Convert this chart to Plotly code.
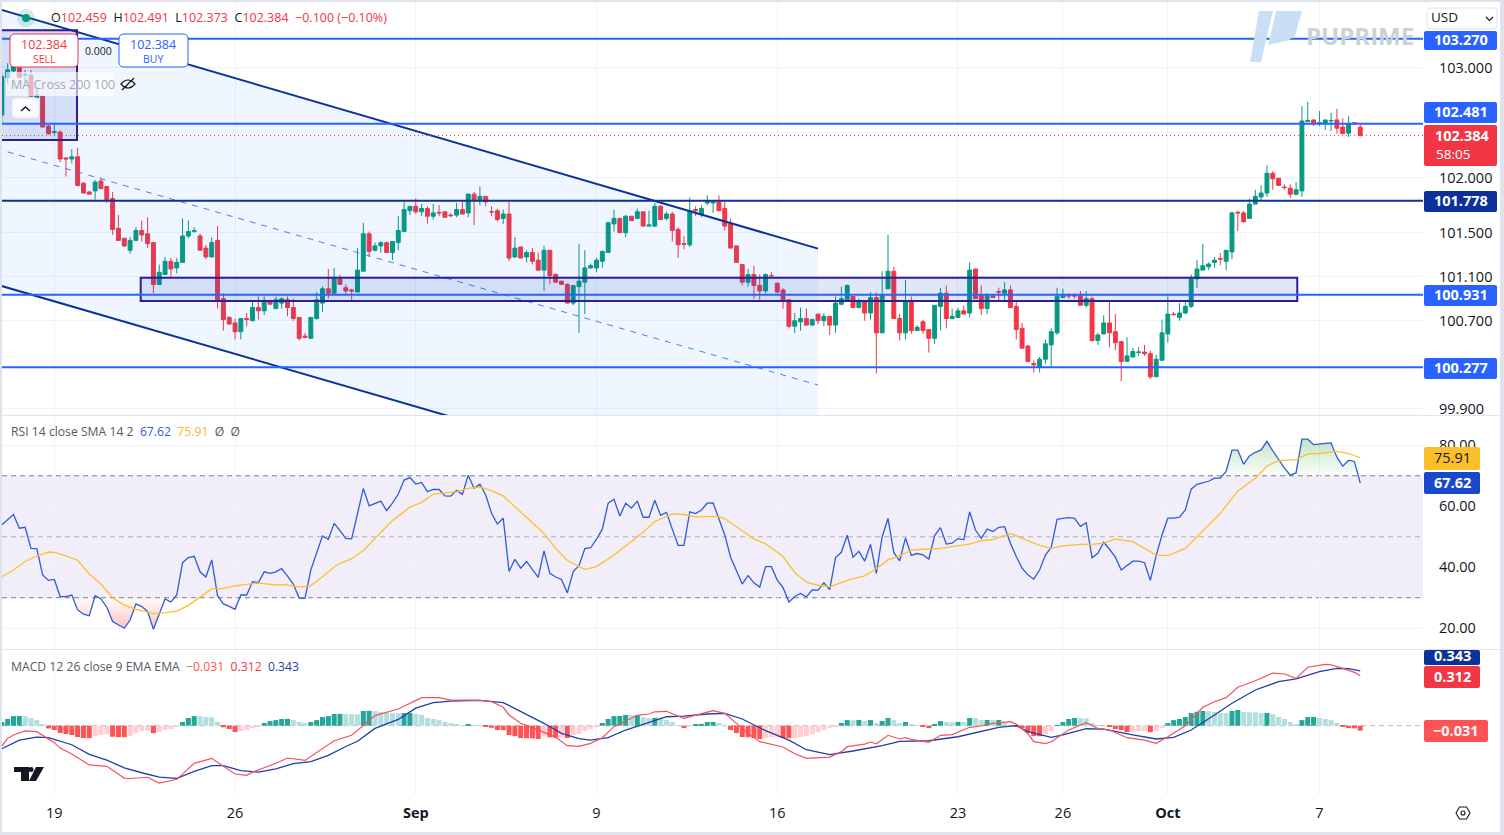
import plotly.graph_objects as go

W, H = 1504, 835
FONT = "Open Sans"

opens = [102.57,102.91,102.97,103.00,102.93,102.93,102.73,102.74,102.47,102.41,
102.415,102.18,102.17,102.19,101.95,101.87,101.88,101.97,101.92,101.81,
101.54,101.45,101.34,101.43,101.52,101.49,101.41,101.03,101.12,101.24,
101.18,101.23,101.47,101.51,101.47,101.36,101.28,101.43,100.90,100.73,
100.68,100.60,100.72,100.70,100.82,100.79,100.88,100.81,100.86,100.89,
100.82,100.73,100.56,100.54,100.72,100.86,100.99,100.95,101.08,101.00,
100.98,100.96,101.15,101.49,101.34,101.38,101.41,101.32,101.41,101.51,
101.70,101.74,101.69,101.72,101.65,101.685,101.69,101.66,101.66,101.71,
101.68,101.85,101.80,101.83,101.69,101.70,101.63,101.67,101.28,101.37,
101.28,101.32,101.25,101.16,101.34,101.12,101.06,101.03,100.86,101.01,
101.05,101.18,101.18,101.24,101.32,101.58,101.63,101.50,101.65,101.63,
101.69,101.56,101.56,101.74,101.63,101.67,101.53,101.40,101.39,101.71,
101.67,101.77,101.77,101.78,101.72,101.58,101.38,101.21,101.05,101.12,
101.02,100.97,101.11,101.04,100.98,100.89,100.65,100.69,100.72,100.66,
100.76,100.70,100.74,100.66,100.85,100.89,100.92,100.82,100.88,100.77,
100.91,100.59,100.99,101.15,100.72,100.59,100.88,100.61,100.69,100.62,
100.54,100.83,100.95,100.72,100.73,100.79,100.77,101.17,100.93,100.81,
100.925,100.965,100.95,100.98,100.83,100.63,100.47,100.31,100.28,100.35,
100.48,100.59,100.91,100.93,100.93,100.93,100.84,100.90,100.52,100.58,
100.68,100.60,100.51,100.33,100.37,100.41,100.415,100.40,100.19,100.34,
100.58,100.76,100.73,100.77,100.83,101.08,101.16,101.19,101.23,101.265,
101.24,101.325,101.685,101.68,101.63,101.76,101.825,101.86,102.04,101.995,
101.915,101.905,101.85,101.88,102.51,102.525,102.49,102.49,102.515,102.525,
102.46,102.405,102.50,102.459]
highs = [102.95,103.04,103.05,103.06,102.98,102.98,102.82,102.75,102.48,102.50,
102.43,102.18,102.26,102.27,101.96,101.88,101.98,102.00,101.92,101.87,
101.66,101.45,101.46,101.55,101.61,101.64,101.41,101.21,101.28,101.27,
101.27,101.63,101.61,101.55,101.49,101.39,101.46,101.56,100.95,100.74,
100.72,100.72,100.77,100.87,100.92,100.92,100.88,100.92,100.91,100.92,
100.90,100.73,100.59,100.73,100.96,101.01,101.17,101.18,101.12,101.03,
100.99,101.36,101.59,101.51,101.41,101.42,101.42,101.42,101.65,101.78,
101.74,101.81,101.76,101.74,101.76,101.75,101.69,101.68,101.77,101.78,
101.86,101.87,101.92,101.83,101.74,101.72,101.71,101.78,101.46,101.37,
101.34,101.36,101.32,101.38,101.34,101.13,101.06,101.04,101.02,101.40,
101.34,101.22,101.27,101.34,101.60,101.71,101.63,101.66,101.65,101.72,
101.69,101.70,101.77,101.75,101.69,101.69,101.55,101.47,101.82,101.74,
101.75,101.84,101.78,101.84,101.78,101.63,101.38,101.21,101.17,101.20,
101.12,101.13,101.14,101.05,100.995,100.89,100.77,100.82,100.81,100.72,
100.76,100.77,100.74,100.92,101.01,101.03,100.92,100.90,100.88,100.96,
100.96,101.15,101.48,101.19,100.76,101.07,100.92,100.66,100.71,100.62,
100.84,100.998,101.02,100.81,100.82,100.84,101.23,101.17,101.02,100.95,
100.93,101.00,101.05,101.02,100.87,100.68,100.48,100.34,100.37,100.53,
100.63,101.00,100.99,100.95,100.95,100.97,100.97,100.92,100.59,100.75,
100.88,100.76,100.51,100.55,100.45,100.46,100.48,100.43,100.39,100.71,
100.92,100.78,100.86,100.87,101.12,101.25,101.40,101.23,101.28,101.315,
101.34,101.69,101.70,101.70,101.81,101.89,101.93,102.11,102.06,101.995,
101.94,101.94,101.96,102.65,102.69,102.53,102.605,102.525,102.59,102.625,
102.54,102.56,102.50,102.491]
lows = [102.50,102.86,102.96,102.91,102.86,102.74,102.64,102.46,102.39,102.39,
102.14,102.01,102.13,101.92,101.86,101.85,101.80,101.90,101.77,101.48,
101.43,101.37,101.31,101.43,101.42,101.36,100.95,101.03,101.12,101.10,
101.13,101.23,101.45,101.50,101.34,101.26,101.27,100.81,100.61,100.66,
100.53,100.53,100.65,100.70,100.71,100.75,100.85,100.81,100.81,100.74,
100.70,100.52,100.54,100.54,100.71,100.78,100.90,100.95,101.03,100.94,
100.89,100.96,101.15,101.28,101.33,101.32,101.32,101.25,101.34,101.51,
101.66,101.67,101.65,101.58,101.62,101.65,101.64,101.64,101.64,101.67,
101.64,101.57,101.75,101.74,101.65,101.60,101.58,101.24,101.27,101.27,
101.23,101.21,101.15,100.97,101.03,101.05,101.03,100.86,100.84,100.59,
100.76,101.17,101.14,101.18,101.32,101.51,101.50,101.46,101.61,101.63,
101.56,101.56,101.55,101.62,101.61,101.42,101.27,101.35,101.37,101.65,
101.64,101.75,101.68,101.70,101.52,101.36,101.23,101.02,101.01,100.90,
100.89,100.95,101.10,100.95,100.81,100.63,100.59,100.61,100.66,100.66,
100.67,100.65,100.57,100.59,100.84,100.89,100.82,100.81,100.70,100.71,
100.22,100.59,100.99,100.72,100.52,100.53,100.58,100.61,100.58,100.41,
100.49,100.61,100.63,100.71,100.73,100.76,100.73,100.90,100.75,100.76,
100.91,100.89,100.89,100.82,100.53,100.45,100.33,100.23,100.23,100.31,
100.28,100.57,100.91,100.90,100.90,100.84,100.82,100.51,100.48,100.58,
100.46,100.43,100.15,100.33,100.37,100.38,100.38,100.17,100.19,100.34,
100.50,100.75,100.70,100.76,100.815,101.00,101.16,101.16,101.18,101.205,
101.16,101.26,101.515,101.59,101.63,101.76,101.79,101.825,101.89,101.93,
101.89,101.815,101.84,101.825,102.505,102.47,102.47,102.435,102.425,102.40,
102.40,102.37,102.49,102.373]
closes = [102.92,102.98,103.01,102.91,102.94,102.74,102.75,102.46,102.40,102.42,
102.17,102.17,102.19,101.93,101.86,101.85,101.96,101.90,101.80,101.53,
101.43,101.38,101.43,101.52,101.48,101.40,101.03,101.14,101.24,101.17,
101.23,101.47,101.51,101.52,101.34,101.28,101.41,100.89,100.71,100.67,
100.60,100.72,100.71,100.82,100.79,100.88,100.85,100.89,100.90,100.82,
100.72,100.54,100.55,100.73,100.89,100.99,100.95,101.08,101.03,100.97,
100.97,101.16,101.49,101.33,101.38,101.41,101.32,101.42,101.52,101.71,
101.74,101.69,101.72,101.65,101.68,101.68,101.64,101.655,101.71,101.67,
101.85,101.80,101.83,101.78,101.69,101.62,101.67,101.27,101.36,101.27,
101.32,101.24,101.16,101.34,101.11,101.05,101.03,100.86,101.02,101.06,
101.18,101.20,101.25,101.33,101.59,101.63,101.50,101.65,101.61,101.69,
101.56,101.57,101.74,101.62,101.67,101.52,101.39,101.395,101.70,101.70,
101.72,101.78,101.78,101.70,101.56,101.36,101.23,101.05,101.12,101.02,
100.97,101.12,101.11,100.96,100.89,100.65,100.70,100.72,100.66,100.71,
100.70,100.74,100.66,100.86,100.90,101.02,100.82,100.88,100.77,100.91,
100.59,100.93,101.15,100.72,100.59,100.88,100.61,100.64,100.61,100.54,
100.84,100.95,100.72,100.74,100.79,100.76,101.16,100.90,100.81,100.93,
100.91,100.96,100.98,100.82,100.62,100.45,100.33,100.30,100.35,100.49,
100.60,100.92,100.93,100.925,100.925,100.84,100.90,100.52,100.57,100.68,
100.59,100.50,100.33,100.38,100.42,100.415,100.40,100.19,100.35,100.59,
100.76,100.755,100.77,100.83,101.08,101.17,101.20,101.215,101.25,101.26,
101.34,101.68,101.68,101.60,101.76,101.83,101.86,102.04,101.99,101.93,
101.91,101.85,101.89,102.515,102.52,102.49,102.50,102.525,102.52,102.45,
102.40,102.49,102.49,102.384]
rsi = [53.9,55.5,57.3,52.8,53.1,46.2,46.1,37.5,35.7,36.0,
30.4,30.4,30.9,26.0,24.6,24.1,30.7,29.6,26.9,22.2,
21.0,20.0,22.7,28.0,27.1,25.5,19.7,24.4,29.6,28.6,
30.9,41.5,43.2,43.6,38.5,36.8,42.4,30.7,28.0,27.2,
26.2,30.9,30.9,35.3,35.0,38.5,38.0,38.5,39.6,37.1,
34.5,29.9,29.8,39.1,45.1,50.3,49.2,54.4,52.0,49.5,
49.3,57.7,65.8,60.1,61.0,61.7,58.6,61.0,64.0,68.6,
69.4,67.3,67.8,64.8,65.5,65.5,63.4,63.3,65.2,63.9,
70.2,65.9,67.2,63.7,57.7,54.2,56.1,38.6,42.6,39.7,
41.9,39.4,36.7,45.4,38.0,36.8,36.0,31.6,38.6,40.5,
46.1,46.4,49.2,52.5,61.0,62.3,56.8,61.0,59.4,61.7,
56.4,56.4,62.0,57.0,58.0,52.5,47.2,47.2,58.2,57.6,
58.8,61.0,61.1,55.8,50.6,43.3,39.1,34.5,37.3,34.9,
33.5,40.2,40.2,35.8,33.3,28.6,30.4,31.4,30.3,32.6,
32.5,34.9,32.7,43.2,44.9,50.5,43.3,45.2,42.0,47.5,
38.0,50.0,56.0,44.8,42.1,49.6,43.9,44.5,44.1,42.7,
50.4,53.0,47.6,47.9,49.4,49.0,58.2,52.2,49.5,52.5,
51.7,53.1,53.3,47.9,43.5,39.7,37.5,36.1,39.1,44.0,
46.5,55.7,56.0,56.3,56.0,53.4,54.6,43.1,44.6,48.2,
45.9,43.3,39.1,40.5,42.0,42.0,41.5,35.7,43.8,50.6,
56.1,56.1,56.4,58.8,65.6,67.2,67.8,68.2,69.2,69.2,
71.4,78.4,78.4,73.8,76.5,77.7,78.5,81.3,78.2,75.2,
72.5,70.2,71.0,82.0,82.0,80.2,80.3,80.6,80.8,76.1,
73.1,75.1,74.7,67.62]
rsi_sma_bars = [0,2,4,6,8,9,11,13,15,17,19,21,23,25,26,28,30,32,34,36,38,40,42,44,47,49,51,53,55,57,58,60,62,64,67,70,72,74,76,78,80,82,84,86,89,91,93,95,97,99,100,102,105,107,110,112,115,117,119,123,124,127,129,131,134,136,138,140,142,145,148,150,152,154,156,158,161,163,166,168,170,173,176,178,180,182,185,187,189,191,194,196,198,200,203,205,209,212,215,217,219,222,224,226,229,231,233]
rsi_sma_vals = [36.9,39.1,41.9,43.7,45.0,44.9,43.7,42.3,37.8,34.5,30.0,27.6,26.2,25.4,24.8,25.1,25.6,27.5,30.3,32.9,33.1,33.9,34.4,34.8,34.2,34.2,33.5,34.0,36.9,40.1,41.3,42.8,45.5,49.5,55.3,59.7,61.3,64.0,64.3,64.7,65.9,66.3,65.1,63.4,58.1,54.6,51.1,46.2,42.2,40.3,39.3,40.2,44.0,47.0,51.5,55.0,57.5,57.3,56.5,56.7,55.9,52.0,49.3,47.7,43.5,38.3,35.1,34.1,33.6,35.7,37.2,39.5,42.4,43.7,45.6,45.9,46.2,46.8,47.6,48.7,49.1,51.1,48.7,47.2,46.2,47.0,47.5,47.5,47.9,49.2,48.4,46.2,44.0,43.8,46.2,50.0,57.7,65.0,69.2,73.2,75.0,75.3,77.2,77.3,78.0,77.3,75.91]
macd_hist = [.023,.042,.060,.061,.060,.048,.035,.010,-.017,-.027,
-.046,-.052,-.058,-.071,-.077,-.078,-.065,-.058,-.052,-.069,
-.071,-.072,-.065,-.046,-.033,-.029,-.046,-.040,-.027,-.021,
-.008,.023,.048,.060,.059,.054,.053,.023,-.010,-.021,
-.040,-.033,-.027,-.015,-.004,.017,.029,.035,.042,.043,
.035,.023,.017,.023,.035,.054,.060,.073,.074,.073,
.072,.071,.092,.093,.091,.085,.081,.079,.078,.079,
.080,.073,.067,.048,.042,.035,.023,.017,.010,.004,
.010,.004,.002,-.002,-.013,-.027,-.028,-.058,-.065,-.077,
-.078,-.079,-.083,-.065,-.073,-.074,-.071,-.077,-.058,-.052,
-.033,-.021,-.010,.017,.042,.060,.061,.067,.066,.067,
.054,.048,.049,.047,.035,.023,.004,-.015,-.002,.010,
.011,.023,.024,.017,.002,-.027,-.046,-.071,-.072,-.077,
-.083,-.077,-.071,-.070,-.077,-.078,-.077,-.071,-.065,-.052,
-.040,-.027,-.015,-.002,.017,.035,.034,.036,.029,.035,
.017,.029,.048,.035,.017,.023,.010,.002,-.006,-.015,
.010,.029,.023,.022,.024,.023,.048,.047,.035,.036,
.035,.036,.023,.004,-.002,-.015,-.046,-.065,-.066,-.052,
-.033,.002,.023,.042,.048,.047,.046,.017,.004,.000,
-.008,-.021,-.027,-.040,-.038,-.033,-.032,-.040,-.033,-.015,
.017,.035,.042,.054,.079,.087,.092,.091,.085,.079,
.078,.092,.098,.085,.084,.083,.079,.080,.073,.054,
.042,.023,.010,.035,.054,.055,.048,.042,.035,.017,
-.003,-.015,-.017,-.031]
macd_bars = [0,1,2,4,6,9,10,12,15,18,21,22,25,27,30,33,36,40,42,43,47,49,52,55,57,60,62,64,68,71,72,75,77,80,82,84,86,87,89,91,93,95,97,99,101,103,105,109,111,112,114,117,120,122,124,127,128,130,132,134,136,138,142,144,145,148,149,150,152,154,155,156,159,161,163,166,168,170,173,174,176,177,179,180,183,185,186,188,190,193,196,198,200,203,206,208,210,212,215,218,220,222,224,227,228,230,232,233]
macd_vals = [-.127,-.079,-.058,-.033,-.037,-.106,-.140,-.177,-.245,-.254,-.327,-.330,-.322,-.358,-.335,-.235,-.204,-.302,-.310,-.290,-.235,-.202,-.217,-.140,-.094,-.060,.004,.063,.104,.160,.175,.175,.160,.160,.158,.150,.115,.067,.015,-.012,-.040,-.073,-.125,-.129,-.110,-.075,-.006,.065,.073,.087,.090,.046,.075,.094,.077,-.018,-.048,-.100,-.115,-.133,-.175,-.204,-.196,-.162,-.131,-.115,-.102,-.113,-.060,-.083,-.075,-.085,-.104,-.060,-.056,-.010,-.002,.015,.025,.010,-.050,-.100,-.112,-.100,-.027,.004,.019,-.017,-.027,-.075,-.090,-.110,-.069,.000,.115,.150,.175,.240,.281,.329,.323,.296,.365,.383,.381,.358,.333,.312]
signal_bars = [0,3,6,8,12,15,18,21,24,27,30,33,36,38,41,44,47,50,53,56,59,61,64,68,71,74,77,82,86,89,93,96,99,101,104,107,110,114,117,121,124,127,131,135,138,142,146,151,154,159,164,168,171,174,176,180,182,186,189,194,198,201,204,208,211,215,219,222,226,229,231,233]
signal_vals = [-.144,-.090,-.071,-.075,-.119,-.179,-.215,-.263,-.294,-.321,-.329,-.285,-.250,-.250,-.281,-.290,-.270,-.237,-.225,-.185,-.130,-.097,-.017,.039,.110,.144,.154,.158,.144,.088,.015,-.048,-.081,-.090,-.075,-.027,.010,.056,.060,.073,.077,.042,-.031,-.090,-.150,-.181,-.158,-.125,-.098,-.094,-.069,-.033,-.010,.000,-.037,-.073,-.058,-.019,-.021,-.058,-.083,-.073,-.027,.067,.140,.223,.275,.292,.338,.358,.356,.343]

tick_bars = [9,40,71,102,133,164,182,200,226]
tick_text = ["19","26","<b>Sep</b>","9","16","23","26","<b>Oct</b>","7"]
price_ticks = [103.0,102.0,101.5,101.1,100.7,99.9]
rsi_ticks = [80,60,40,20]
blue_levels = [103.262,102.49,100.935,100.277]
dark_level = 101.79
last_price = 102.384
channel_bars = [-1,140]
channel_upper = [103.54,101.355]
channel_lower = [101.03,98.856]
channel_mid = [102.265,100.115]
box1 = [-1,12.89,102.343,103.34]
box2 = [23.82,222.2,100.88,101.09]

PX = 5.83; PX0 = 1.84
def dom_x(a, b): return [a / W, b / W]
def dom_y(a, b): return [1 - b / H, 1 - a / H]
def fx(x): return x / W
def fy(y): return 1 - y / H
def poly(pts, close=True):
    s = "M " + " L ".join(f"{fx(x):.5f} {fy(y):.5f}" for x, y in pts)
    return s + (" Z" if close else "")
def rrect(x0, y0, x1, y1, r=3):
    c = lambda a, b: f"{fx(a):.5f} {fy(b):.5f}"
    return (f"M {c(x0+r,y0)} L {c(x1-r,y0)} Q {c(x1,y0)} {c(x1,y0+r)} L {c(x1,y1-r)} Q {c(x1,y1)} {c(x1-r,y1)} "
            f"L {c(x0+r,y1)} Q {c(x0,y1)} {c(x0,y1-r)} L {c(x0,y0+r)} Q {c(x0,y0)} {c(x0+r,y0)} Z")

bars = list(range(len(closes)))
RED, GREEN = "#F23645", "#089981"
BLUE, DARK, PURPLE = "#2962FF", "#0C3299", "#2E1F8F"
GRID = "#F0F3FA"

fig = go.Figure()
fig.add_trace(go.Candlestick(x=bars, open=opens, high=highs, low=lows, close=closes,
    xaxis="x", yaxis="y", whiskerwidth=0,
    increasing=dict(line=dict(color=GREEN, width=1), fillcolor=GREEN),
    decreasing=dict(line=dict(color=RED, width=1), fillcolor=RED)))

def clamp(vals, level, above):
    xs, ys = [], []
    for i, v in enumerate(vals):
        if i and (vals[i-1] - level) * (v - level) < 0:
            xs.append(i - 1 + (level - vals[i-1]) / (v - vals[i-1])); ys.append(level)
        xs.append(i); ys.append(max(v, level) if above else min(v, level))
    return xs, ys

for level, above, rgb, stop in [(70, True, "76,175,80", 82), (30, False, "255,82,82", 20)]:
    xs, ys = clamp(rsi, level, above)
    fig.add_trace(go.Scatter(x=xs, y=[level]*len(xs), xaxis="x2", yaxis="y2", mode="lines", line=dict(width=0), hoverinfo="skip"))
    fig.add_trace(go.Scatter(x=xs, y=ys, xaxis="x2", yaxis="y2", mode="lines", line=dict(width=0), fill="tonexty",
        fillgradient=dict(type="vertical", start=level, stop=stop,
                          colorscale=[[0, f"rgba({rgb},0.02)"], [1, f"rgba({rgb},0.34)"]]), hoverinfo="skip"))
fig.add_trace(go.Scatter(x=bars, y=rsi, xaxis="x2", yaxis="y2", mode="lines", line=dict(color="#2F5BD6", width=1.3)))
fig.add_trace(go.Scatter(x=rsi_sma_bars, y=rsi_sma_vals, xaxis="x2", yaxis="y2", mode="lines", line=dict(color="#FBC02D", width=1.3)))

hist_colors = []
for i, v in enumerate(macd_hist):
    prev = macd_hist[i-1] if i else 0
    if v >= 0:
        hist_colors.append("#26A69A" if v > prev else "#B2DFDB")
    else:
        hist_colors.append("#FF5252" if v < prev else "#FFCDD2")
fig.add_trace(go.Bar(x=bars, y=macd_hist, xaxis="x3", yaxis="y3", width=0.86, marker=dict(color=hist_colors, line=dict(width=0))))
fig.add_trace(go.Scatter(x=signal_bars, y=signal_vals, xaxis="x3", yaxis="y3", mode="lines", line=dict(color="#1E3FA8", width=1.3)))
fig.add_trace(go.Scatter(x=macd_bars, y=macd_vals, xaxis="x3", yaxis="y3", mode="lines", line=dict(color="#F4505F", width=1.2)))

shapes = []
def hline(level, color, width, dash="solid", xr="x", yr="y", layer="above"):
    shapes.append(dict(type="line", xref="paper", yref=yr, x0=2/W, x1=1423/W, y0=level, y1=level,
                       line=dict(color=color, width=width, dash=dash), layer=layer))
shapes.append(dict(type="rect", xref="paper", yref="y2", x0=2/W, x1=1423/W, y0=30, y1=70,
                   fillcolor="rgba(126,87,194,0.1)", line=dict(width=0), layer="below"))
hline(70, "#787B86", 1, "5px,4px", yr="y2", layer="below")
hline(50, "rgba(120,123,134,0.55)", 1, "5px,4px", yr="y2", layer="below")
hline(30, "#787B86", 1, "5px,4px", yr="y2", layer="below")
hline(0, "rgba(120,123,134,0.55)", 1, "5px,4px", yr="y3", layer="below")
xa, xb = channel_bars
shapes.append(dict(type="path", xref="x", yref="y", layer="above", line=dict(width=0), fillcolor="rgba(33,130,250,0.07)",
    path=f"M {xa} {channel_upper[0]} L {xb} {channel_upper[1]} L {xb} {channel_lower[1]} L {xa} {channel_lower[0]} Z"))
for series, color, width, dash in [(channel_upper, DARK, 2, "solid"), (channel_lower, DARK, 2, "solid"), (channel_mid, "#4D7CFE", 1, "6px,6px")]:
    shapes.append(dict(type="line", xref="x", yref="y", x0=xa, x1=xb, y0=series[0], y1=series[1], line=dict(color=color, width=width, dash=dash), layer="above"))
for b in (box1, box2):
    shapes.append(dict(type="rect", xref="x", yref="y", x0=b[0], x1=b[1], y0=b[2], y1=b[3],
                       fillcolor="rgba(21,72,204,0.13)", line=dict(color=PURPLE, width=2), layer="above"))
for lv in blue_levels:
    hline(lv, BLUE, 2)
hline(dark_level, DARK, 2)
hline(last_price, RED, 1, "1px,3px")

anns = []
def txt(x, y, text, size=13, color="#131722", anchor="left"):
    anns.append(dict(xref="paper", yref="paper", x=fx(x), y=fy(y - 0.8), text=text, showarrow=False, xanchor=anchor, yanchor="middle",
                     font=dict(family=FONT, size=size, color=color), borderpad=0, borderwidth=0))
def sh_path(path, fill="rgba(0,0,0,0)", line=None, width=1):
    shapes.append(dict(type="path", xref="paper", yref="paper", path=path, fillcolor=fill,
                       line=dict(color=line or "rgba(0,0,0,0)", width=width if line else 0), layer="above"))
def pricebox(y0, y1, x1, fill, text, tcolor="#FFFFFF", size=14.5, ty=None):
    sh_path(rrect(1424, y0, x1, y1, 2), fill=fill)
    txt((1424 + x1) / 2, ty if ty is not None else (y0 + y1) / 2, f"<b>{text}</b>" if tcolor == "#FFFFFF" else text, size, tcolor, "center")

sh_path(poly([(1259,11),(1273,11),(1261,62),(1250,62)]), fill="#C9DFF5")
sh_path(poly([(1276,11),(1302,11),(1295,36),(1287,41),(1268,45)]), fill="#C9DFF5")
txt(1306, 36, "<b>PUPRIME</b>", 24, "#CBD1DA")

pricebox(31, 50, 1497, BLUE, "103.270")
pricebox(102, 123, 1497, BLUE, "102.481")
sh_path(rrect(1424, 125, 1497, 166, 2), fill=RED)
txt(1462, 136, "<b>102.384</b>", 14.5, "#FFFFFF", "center")
txt(1453, 155, "58:05", 13.5, "#FFFFFF", "center")
pricebox(191, 212, 1497, DARK, "101.778")
pricebox(285, 306, 1497, BLUE, "100.931")
pricebox(358, 379, 1497, BLUE, "100.277")
pricebox(447, 470, 1480, "#FBBF2C", "75.91", "#131722")
pricebox(472, 494, 1480, "#1848CC", "67.62")
pricebox(650, 665, 1480, DARK, "0.343", ty=656)
pricebox(666, 688, 1480, RED, "0.312")
pricebox(720, 742, 1488, "#FF5252", "−0.031")

shapes.append(dict(type="circle", xref="paper", yref="paper", x0=fx(17), x1=fx(35), y0=fy(27), y1=fy(9),
                   fillcolor="rgba(8,153,129,0.18)", line=dict(width=0), layer="above"))
shapes.append(dict(type="circle", xref="paper", yref="paper", x0=fx(22), x1=fx(30), y0=fy(22), y1=fy(14),
                   fillcolor=GREEN, line=dict(width=0), layer="above"))
R = f"color:{RED}"
txt(51, 18.5, f"O<span style='{R}'>102.459</span>  H<span style='{R}'>102.491</span>  L<span style='{R}'>102.373</span>  C<span style='{R}'>102.384</span>  <span style='{R}'>−0.100 (−0.10%)</span>", 12.5, "#131722")
sh_path(rrect(10, 34, 78, 67, 5), fill="#FFFFFF", line=RED)
txt(44, 45, "102.384", 12.5, RED, "center")
txt(44, 59.5, "SELL", 10.5, RED, "center")
sh_path(rrect(119, 34, 188, 67, 5), fill="#FFFFFF", line=BLUE)
txt(153, 45, "102.384", 12.5, BLUE, "center")
txt(153, 59.5, "BUY", 10.5, BLUE, "center")
txt(99, 51.5, "0.000", 10.5, "#131722", "center")
sh_path(poly([(6,72),(114,72),(114,96),(6,96)]), fill="rgba(255,255,255,0.62)")
txt(11, 85, "MA Cross 200 100", 12.5, "#A6A9B2")
sh_path(rrect(12, 98, 39, 118, 3), fill="rgba(255,255,255,0.9)", line="#E0E3EB")
sh_path(poly([(21,111),(25.5,107),(30,111)], close=False), line="#131722", width=1.5)
sh_path(f"M {fx(121):.5f} {fy(84):.5f} Q {fx(128):.5f} {fy(76):.5f} {fx(135):.5f} {fy(84):.5f} Q {fx(128):.5f} {fy(92):.5f} {fx(121):.5f} {fy(84):.5f} Z", line="#131722", width=1.2)
sh_path(poly([(122,90),(134,78)], close=False), line="#131722", width=1.2)
sh_path(rrect(1427, 8, 1497, 29, 3), fill="#FFFFFF", line="#E0E3EB")
txt(1431, 18, "USD", 13.5, "#131722")
sh_path(poly([(1486,17),(1489.5,20.5),(1493,17)], close=False), line="#131722", width=1.2)

txt(11, 432, f"RSI 14 close SMA 14 2  <span style='color:#2F5BD6'>67.62</span>  <span style='color:#FBB52C'>75.91</span>  Ø  Ø", 12.2, "#555962")
txt(11, 667, f"MACD 12 26 close 9 EMA EMA  <span style='color:#FF5252'>−0.031</span>  <span style='color:{RED}'>0.312</span>  <span style='color:#1E3FA8'>0.343</span>", 12.2, "#555962")

sh_path(poly([(14,767),(29,767),(29,781),(21,781),(21,772),(14,772)]), fill="#131722")
shapes.append(dict(type="circle", xref="paper", yref="paper", x0=fx(28.5), x1=fx(33.5), y0=fy(772), y1=fy(767), fillcolor="#131722", line=dict(width=0), layer="above"))
sh_path(poly([(36,767),(44,767),(36,781),(29,781)]), fill="#131722")
sh_path(poly([(1456,813),(1459.5,807),(1466.5,807),(1470,813),(1466.5,819),(1459.5,819)]), line="#131722", width=1.1)
shapes.append(dict(type="circle", xref="paper", yref="paper", x0=fx(1461), x1=fx(1465), y0=fy(815), y1=fy(811), fillcolor="rgba(0,0,0,0)", line=dict(color="#131722", width=1.1), layer="above"))

for y in (415.5, 649.5):
    shapes.append(dict(type="line", xref="paper", yref="paper", x0=fx(2), x1=fx(1500), y0=fy(y), y1=fy(y), line=dict(color="#E0E3EB", width=1), layer="above"))
for pts in ([(0,0),(W,0),(W,2),(0,2)], [(0,0),(2,0),(2,H),(0,H)], [(1500,0),(W,0),(W,H),(1500,H)], [(0,832),(W,832),(W,H),(0,H)]):
    sh_path(poly(pts), fill="#E0E3EB")

xr = [(2 - PX0) / PX, (1423 - PX0) / PX]
def xax(dom_anchor, labels=False):
    return dict(domain=dom_x(2, 1423), range=xr, anchor=dom_anchor, tickmode="array", tickvals=tick_bars, ticktext=tick_text,
                showgrid=True, gridcolor=GRID, gridwidth=1, zeroline=False, showline=False, showticklabels=labels, automargin=False,
                ticks="outside" if labels else "", ticklen=5, tickcolor="rgba(0,0,0,0)",
                tickfont=dict(family=FONT, size=14.5, color="#131722"), rangeslider=dict(visible=False), fixedrange=True)
def yax(dom, rng, vals, text):
    return dict(domain=dom, range=rng, side="right", tickmode="array", tickvals=vals, ticktext=text, automargin=False,
                showgrid=True, gridcolor=GRID, zeroline=False, showline=False, ticks="outside", ticklen=12,
                tickcolor="rgba(0,0,0,0)", tickfont=dict(family=FONT, size=14.5, color="#131722"), fixedrange=True)

fig.update_layout(width=W, height=H, margin=dict(l=0, r=0, t=0, b=0, pad=0, autoexpand=False), autosize=False,
    paper_bgcolor="#FFFFFF", plot_bgcolor="#FFFFFF", showlegend=False, boxgap=0.04,
    xaxis=xax("y"), xaxis2=xax("y2"), xaxis3=xax("y3", True),
    yaxis=yax(dom_y(1, 415), [99.843, 103.606], price_ticks, [f"{v:.3f}" for v in price_ticks]),
    yaxis2=dict(yax(dom_y(416, 649), [13.2, 89.6], rsi_ticks, [f"{v:.2f}" for v in rsi_ticks]), anchor="x2"),
    yaxis3=dict(yax(dom_y(650, 795), [-.433, .473], [], []), anchor="x3"),
    shapes=shapes, annotations=anns, hovermode=False)

assert all(len(s) == 234 for s in (opens, highs, lows, closes, rsi, macd_hist))
assert len(rsi_sma_bars) == len(rsi_sma_vals) and len(macd_bars) == len(macd_vals) and len(signal_bars) == len(signal_vals)

fig.write_html("out.html", config={"displayModeBar": False},
               post_script=("document.documentElement.style.cssText='margin:0;height:835px;overflow:hidden';"
                            "document.body.style.cssText='margin:0;height:835px;overflow:hidden';"))
